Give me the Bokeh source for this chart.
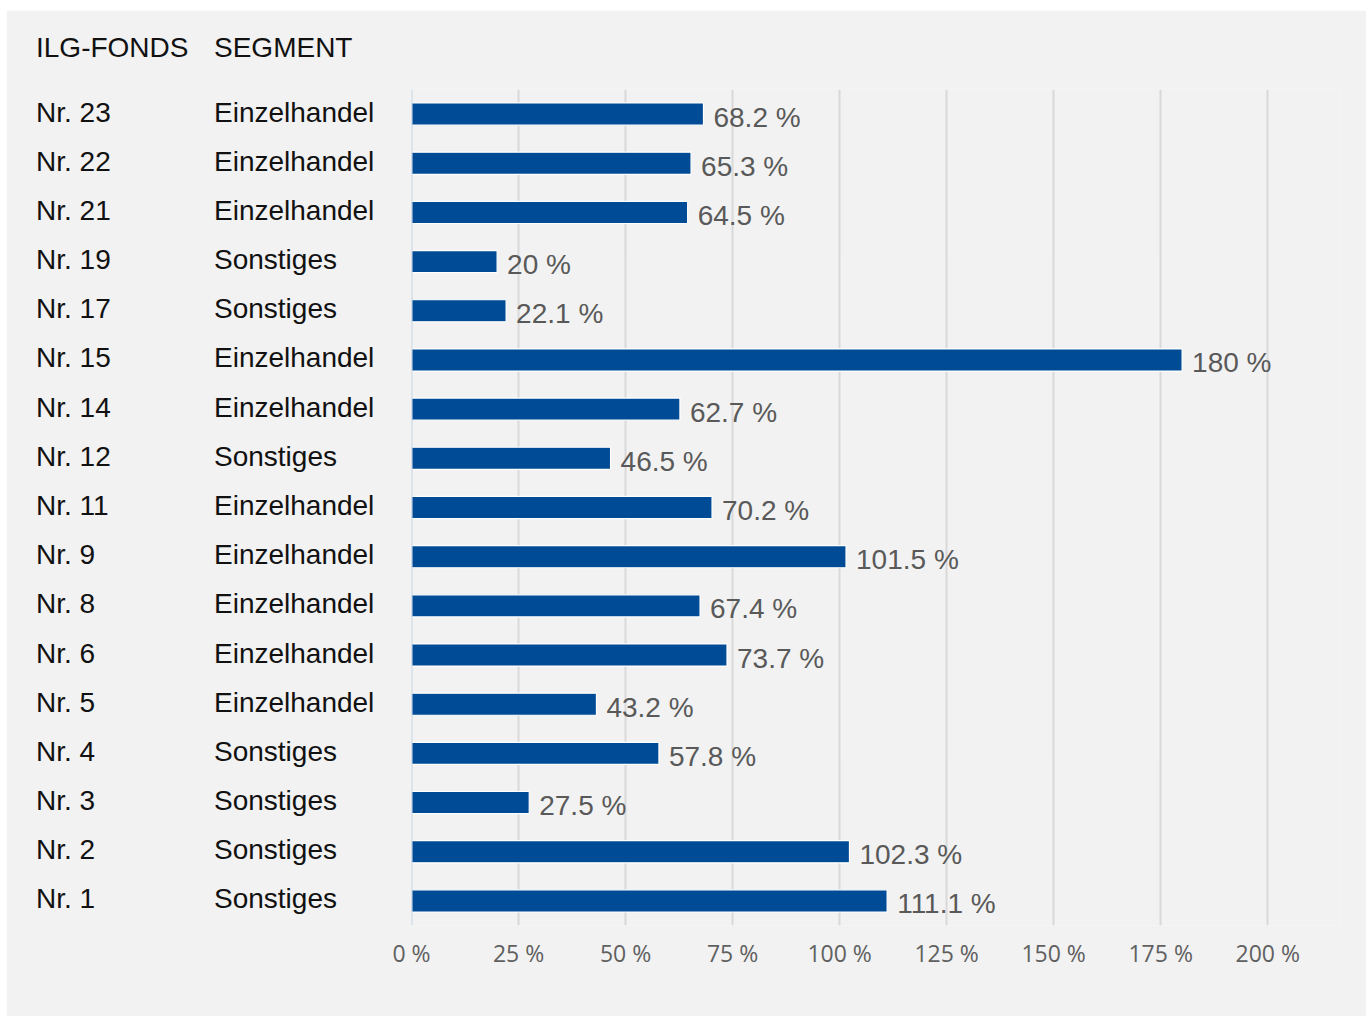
from bokeh.plotting import figure
from bokeh.models import Range1d, FactorRange, FixedTicker, PrintfTickFormatter, Span, ColumnDataSource
from bokeh.core.properties import value
from bokeh.embed import file_html
from bokeh.resources import INLINE

# ---- data (top to bottom as shown) ----
funds = ["Nr. 23", "Nr. 22", "Nr. 21", "Nr. 19", "Nr. 17", "Nr. 15", "Nr. 14", "Nr. 12",
         "Nr. 11", "Nr. 9", "Nr. 8", "Nr. 6", "Nr. 5", "Nr. 4", "Nr. 3", "Nr. 2", "Nr. 1"]
segments = ["Einzelhandel", "Einzelhandel", "Einzelhandel", "Sonstiges", "Sonstiges",
            "Einzelhandel", "Einzelhandel", "Sonstiges", "Einzelhandel", "Einzelhandel",
            "Einzelhandel", "Einzelhandel", "Einzelhandel", "Sonstiges", "Sonstiges",
            "Sonstiges", "Sonstiges"]
ratios = [68.2, 65.3, 64.5, 20, 22.1, 180, 62.7, 46.5, 70.2, 101.5, 67.4, 73.7, 43.2,
          57.8, 27.5, 102.3, 111.1]
x_ticks = [0, 25, 50, 75, 100, 125, 150, 175, 200]
header_fund = "ILG-FONDS"
header_segment = "SEGMENT"

BG = "#f2f2f2"
BAR = "#004b96"
LABEL_FONT = value("Liberation Sans")
LABEL_SIZE = "28px"

p = figure(width=1360, height=1006,
           y_range=FactorRange(factors=funds[::-1]),
           x_range=Range1d(0, 217),
           output_backend="svg", toolbar_location=None,
           min_border_left=405, min_border_right=26,
           min_border_top=79, min_border_bottom=91,
           margin=(10, 0, 0, 6))
p.background_fill_color = BG
p.border_fill_color = BG
p.outline_line_color = None

p.yaxis.visible = False
p.ygrid.grid_line_color = None
p.xgrid.ticker = FixedTicker(ticks=x_ticks)
p.xgrid.grid_line_color = "#d9d9d9"
p.xgrid.grid_line_width = 2

p.xaxis.ticker = FixedTicker(ticks=x_ticks)
p.xaxis.formatter = PrintfTickFormatter(format="%d %%")
p.xaxis.axis_line_color = None
p.xaxis.major_tick_line_color = None
p.xaxis.minor_tick_line_color = None
p.xaxis.major_label_text_font = "Open Sans"
p.xaxis.major_label_text_font_size = "23px"
p.xaxis.major_label_text_color = "#606060"
p.xaxis.major_label_standoff = 5

src = ColumnDataSource(dict(fund=funds, segment=segments, ratio=ratios,
                            label=[f"{v:g} %" for v in ratios]))

p.hbar(y="fund", left=0, right="ratio", height=0.45, source=src,
       fill_color=BAR, line_color="white", line_width=1.2)

p.add_layout(Span(location=0, dimension="height", line_color="#c6d3e3",
                  line_width=2, level="annotation"))

p.text(x="ratio", y="fund", text="label", source=src, x_offset=10, y_offset=3,
       text_align="left", text_baseline="alphabetic", text_font=LABEL_FONT,
       text_font_size=LABEL_SIZE, text_color="#595959")

# left-hand columns
p.text(x=0, y="fund", text="fund", source=src, x_offset=-375.5, y_offset=-2,
       text_align="left", text_baseline="alphabetic", text_font=LABEL_FONT,
       text_font_size=LABEL_SIZE, text_color="#111111", level="annotation")
p.text(x=0, y="fund", text="segment", source=src, x_offset=-197.5, y_offset=-2,
       text_align="left", text_baseline="alphabetic", text_font=LABEL_FONT,
       text_font_size=LABEL_SIZE, text_color="#111111", level="annotation")

# column headers, just above the top edge of the category range
top_edge = len(funds)
p.text(x=[0], y=[top_edge], text=[header_fund], x_offset=-375.5, y_offset=-42,
       text_align="left", text_baseline="alphabetic", text_font=LABEL_FONT,
       text_font_size=LABEL_SIZE, text_color="#111111", level="annotation")
p.text(x=[0], y=[top_edge], text=[header_segment], x_offset=-197.5, y_offset=-42,
       text_align="left", text_baseline="alphabetic", text_font=LABEL_FONT,
       text_font_size=LABEL_SIZE, text_color="#111111", level="annotation")

open("out.html", "w").write(file_html(p, INLINE))
